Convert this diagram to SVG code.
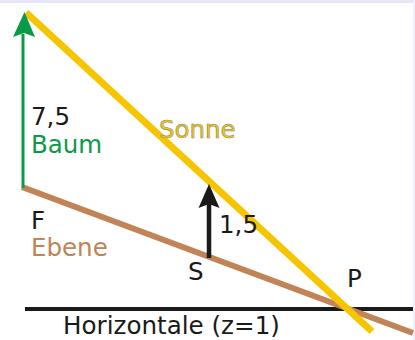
<svg xmlns="http://www.w3.org/2000/svg" width="415" height="340" viewBox="0 0 415 340">
<style>
text{font-family:"DejaVu Sans","Liberation Sans",sans-serif;font-size:24.5px;fill:#1a1a1a}
.green{fill:#0a9a48}
.brown{fill:#c08457}
.sun{fill:#f7c500;stroke:#8a8a8a;stroke-width:0.6}
</style>
<rect x="0" y="0" width="415" height="340" fill="#ffffff"/>
<rect x="0" y="0" width="415" height="3" fill="#e6e6fa"/>
<rect x="413" y="0" width="2" height="340" fill="#f0f0fc"/>
<g id="connectors">
<line id="horizontal" x1="25" y1="309" x2="413" y2="309" stroke="#1a1a1a" stroke-width="4"/>
<line id="ebene" x1="22" y1="187" x2="413" y2="333" stroke="#c08457" stroke-width="6"/>
<line id="sonne" x1="26" y1="12.5" x2="372" y2="331.5" stroke="#f7c500" stroke-width="7"/>
<g id="baum-arrow">
<line x1="23" y1="188" x2="23" y2="34" stroke="#0a9a48" stroke-width="3"/>
<path d="M24.5,12 L35,37 L24,33 L13,37 Z" fill="#0a9a48"/>
</g>
<g id="stab-arrow">
<line x1="209" y1="258" x2="209" y2="204" stroke="#1a1a1a" stroke-width="4.5"/>
<path d="M209,184 L219.5,208 L209,204 L198.5,208 Z" fill="#1a1a1a"/>
</g>
</g>
<g id="node-baum">
<text x="31" y="125">7,5</text>
<text x="31" y="153" class="green">Baum</text>
</g>
<g id="node-sonne">
<text x="159" y="138" class="sun">Sonne</text>
</g>
<g id="node-stab">
<text x="219" y="233">1,5</text>
</g>
<g id="node-F">
<text x="31" y="229">F</text>
<text x="31" y="256" class="brown">Ebene</text>
</g>
<g id="node-S">
<text x="188" y="280">S</text>
</g>
<g id="node-P">
<text x="347" y="287">P</text>
</g>
<g id="node-horizontale">
<text x="63" y="334" style="font-size:24.6px">Horizontale (z=1)</text>
</g>
</svg>
